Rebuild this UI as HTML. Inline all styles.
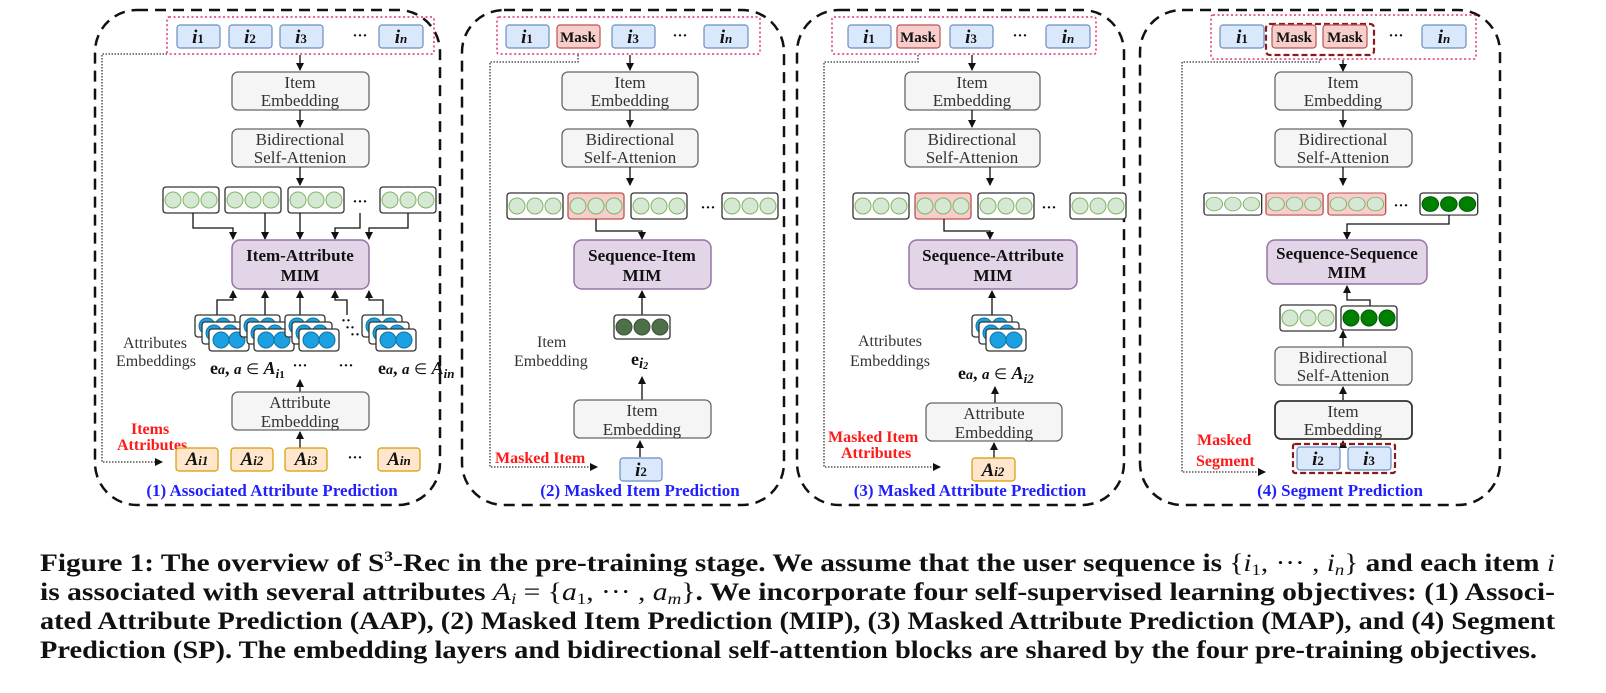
<!DOCTYPE html>
<html><head><meta charset="utf-8"><style>
html,body{margin:0;padding:0;background:#fff;}
svg{display:block;}
.bx{fill:#f5f5f5;stroke:#666;stroke-width:1.3;}
.bt{font-family:"Liberation Serif",serif;font-size:17px;fill:#333;text-anchor:middle;}
.mim{fill:#e1d5e7;stroke:#9673a6;stroke-width:1.5;}
.mt{font-family:"Liberation Serif",serif;font-size:17px;font-weight:bold;fill:#111;text-anchor:middle;}
.it{fill:#dae8fc;stroke:#6c8ebf;stroke-width:1.2;}
.il{font-family:"Liberation Serif",serif;font-size:19px;font-weight:bold;font-style:italic;fill:#111;text-anchor:middle;}
.sub{font-size:13px;font-style:normal;}
.mk{fill:#f8cecc;stroke:#b85450;stroke-width:1.2;}
.ml{font-family:"Liberation Serif",serif;font-size:15px;font-weight:bold;fill:#111;text-anchor:middle;}
.at{fill:#ffe6cc;stroke:#d79b00;stroke-width:1.2;}
.frame{fill:none;stroke:#111;stroke-width:2.5;stroke-dasharray:11 7;}
.pink{fill:none;stroke:#e0307a;stroke-width:1.5;stroke-dasharray:2 2.5;}
.dot{fill:none;stroke:#333;stroke-width:1.3;stroke-dasharray:1.5 1.5;}
.ln{fill:none;stroke:#111;stroke-width:1.3;}
.ttl{font-family:"Liberation Serif",serif;font-size:17px;font-weight:bold;fill:#1f1fff;text-anchor:middle;}
.red{font-family:"Liberation Serif",serif;font-size:16px;font-weight:bold;fill:#ff1a1a;}
.gt{font-family:"Liberation Serif",serif;font-size:16px;fill:#333;}
.math{font-family:"Liberation Serif",serif;font-size:18px;font-weight:bold;fill:#111;}
.cap{font-family:"Liberation Serif",serif;font-size:25px;font-weight:bold;fill:#111;}
</style></head><body>
<svg width="1606" height="693" viewBox="0 0 1606 693" xmlns="http://www.w3.org/2000/svg">
<defs>
<marker id="ar" markerWidth="8" markerHeight="8" refX="7" refY="4" orient="auto" markerUnits="userSpaceOnUse"><path d="M0,0 L8,4 L0,8 z" fill="#111"/></marker>
<g id="vec"><rect x="0" y="0" width="56" height="26" rx="3" fill="#fff" stroke="#333" stroke-width="1.3"/><circle cx="10" cy="13" r="8" fill="#d5e8d4" stroke="#82b366"/><circle cx="28" cy="13" r="8" fill="#d5e8d4" stroke="#82b366"/><circle cx="46" cy="13" r="8" fill="#d5e8d4" stroke="#82b366"/></g>
<g id="vecR"><rect x="0" y="0" width="56" height="26" rx="3" fill="#f8cecc" stroke="#b85450" stroke-width="1.3"/><circle cx="10" cy="13" r="8" fill="#d5e8d4" stroke="#82b366"/><circle cx="28" cy="13" r="8" fill="#d5e8d4" stroke="#82b366"/><circle cx="46" cy="13" r="8" fill="#d5e8d4" stroke="#82b366"/></g>
<g id="vecD"><rect x="0" y="0" width="56" height="24" rx="3" fill="#fff" stroke="#333" stroke-width="1.3"/><circle cx="10" cy="12" r="8" fill="#008000" stroke="#005700"/><circle cx="28" cy="12" r="8" fill="#008000" stroke="#005700"/><circle cx="46" cy="12" r="8" fill="#008000" stroke="#005700"/></g>
<g id="vecE"><rect x="0" y="0" width="56" height="24" rx="3" fill="#fff" stroke="#333" stroke-width="1.3"/><circle cx="10" cy="12" r="8" fill="#4f6e4a" stroke="#3a5336"/><circle cx="28" cy="12" r="8" fill="#4f6e4a" stroke="#3a5336"/><circle cx="46" cy="12" r="8" fill="#4f6e4a" stroke="#3a5336"/></g>
<g id="ab"><rect x="0" y="0" width="40" height="22" rx="3" fill="#fff" stroke="#333" stroke-width="1.3"/><circle cx="12" cy="11" r="8" fill="#1ba1e2" stroke="#10739e"/><circle cx="28" cy="11" r="8" fill="#1ba1e2" stroke="#10739e"/></g>
<g id="ast"><use href="#ab"/><use href="#ab" x="7" y="7"/><use href="#ab" x="14" y="14"/></g>
</defs>

<rect class="frame" x="95" y="10" width="345" height="495" rx="42"/>
<rect class="frame" x="462" y="10" width="322" height="495" rx="42"/>
<rect class="frame" x="797" y="10" width="327" height="495" rx="42"/>
<rect class="frame" x="1140" y="10" width="360" height="495" rx="42"/>

<!-- Panel 1 -->
<rect class="pink" x="167" y="17" width="267" height="37" rx="2"/>
<rect class="it" x="177" y="25" width="43" height="23" rx="3"/><text class="il" x="198" y="43">i<tspan class="sub">1</tspan></text>
<rect class="it" x="229" y="25" width="43" height="23" rx="3"/><text class="il" x="250" y="43">i<tspan class="sub">2</tspan></text>
<rect class="it" x="280" y="25" width="43" height="23" rx="3"/><text class="il" x="301" y="43">i<tspan class="sub">3</tspan></text>
<text class="ml" x="360" y="40">···</text>
<rect class="it" x="379" y="25" width="44" height="23" rx="3"/><text class="il" x="401" y="43">i<tspan class="sub" style="font-style:italic">n</tspan></text>
<path class="ln" d="M300,55 V70" marker-end="url(#ar)"/>
<rect class="bx" x="232" y="72" width="137" height="38" rx="6"/><text class="bt" x="300" y="88">Item</text><text class="bt" x="300" y="106">Embedding</text>
<path class="ln" d="M300,110 V127" marker-end="url(#ar)"/>
<rect class="bx" x="232" y="129" width="137" height="38" rx="6"/><text class="bt" x="300" y="145">Bidirectional</text><text class="bt" x="300" y="163">Self-Attenion</text>
<path class="ln" d="M300,167 V185" marker-end="url(#ar)"/>
<use href="#vec" x="163" y="187"/><use href="#vec" x="225" y="187"/><use href="#vec" x="288" y="187"/><text class="ml" x="360" y="206">···</text><use href="#vec" x="380" y="187"/>
<path class="ln" d="M193,213 V228 H233 V239" marker-end="url(#ar)"/>
<path class="ln" d="M265,213 V239" marker-end="url(#ar)"/>
<path class="ln" d="M300,213 V239" marker-end="url(#ar)"/>
<path class="ln" d="M360,213 V228 H335 V239" marker-end="url(#ar)"/>
<path class="ln" d="M408,213 V228 H369 V239" marker-end="url(#ar)"/>
<rect class="mim" x="232" y="240" width="137" height="49" rx="8"/><text class="mt" x="300" y="261">Item-Attribute</text><text class="mt" x="300" y="281">MIM</text>
<path class="ln" d="M217,315 V300 H233 V291" marker-end="url(#ar)"/>
<path class="ln" d="M265,315 V291" marker-end="url(#ar)"/>
<path class="ln" d="M300,315 V291" marker-end="url(#ar)"/>
<path class="ln" d="M347,315 V300 H335 V291" marker-end="url(#ar)"/>
<path class="ln" d="M383,315 V300 H369 V291" marker-end="url(#ar)"/>
<use href="#ast" x="195" y="315"/><use href="#ast" x="240" y="315"/><use href="#ast" x="285" y="315"/><use href="#ast" x="362" y="315"/>
<text class="ml" x="346" y="325">··</text><text class="ml" x="350" y="332">··</text><text class="ml" x="355" y="339">··</text>
<text class="gt" x="123" y="348">Attributes</text><text class="gt" x="116" y="366">Embeddings</text>
<text class="math" x="210" y="374">e<tspan font-style="italic" font-size="14">a</tspan>, <tspan font-style="italic" font-size="15">a</tspan> <tspan font-weight="normal" font-size="15">∈</tspan> <tspan font-style="italic">A</tspan><tspan font-style="italic" font-size="13" dy="4">i</tspan><tspan font-size="11">1</tspan></text>
<text class="ml" x="300" y="370">···</text><text class="ml" x="346" y="370">···</text>
<text class="math" x="378" y="374">e<tspan font-style="italic" font-size="14">a</tspan>, <tspan font-style="italic" font-size="15">a</tspan> <tspan font-weight="normal" font-size="15">∈</tspan> <tspan font-style="italic">A</tspan><tspan font-style="italic" font-size="13" dy="4">in</tspan></text>
<path class="ln" d="M300,392 V380" marker-end="url(#ar)"/>
<rect class="bx" x="232" y="392" width="137" height="38" rx="6"/><text class="bt" x="300" y="408">Attribute</text><text class="bt" x="300" y="427">Embedding</text>
<path class="ln" d="M300,448 V432" marker-end="url(#ar)"/>
<text class="red" x="131" y="434">Items</text><text class="red" x="117" y="450">Attributes</text>
<rect class="at" x="176" y="448" width="42" height="23" rx="3"/><text class="il" x="197" y="465">A<tspan class="sub" style="font-style:italic">i1</tspan></text>
<rect class="at" x="231" y="448" width="42" height="23" rx="3"/><text class="il" x="252" y="465">A<tspan class="sub" style="font-style:italic">i2</tspan></text>
<rect class="at" x="285" y="448" width="42" height="23" rx="3"/><text class="il" x="306" y="465">A<tspan class="sub" style="font-style:italic">i3</tspan></text>
<text class="ml" x="355" y="462">···</text>
<rect class="at" x="378" y="448" width="42" height="23" rx="3"/><text class="il" x="399" y="465">A<tspan class="sub" style="font-style:italic">in</tspan></text>
<path class="dot" d="M167,54 H102 V462 H162" marker-end="url(#ar)"/>
<text class="ttl" x="272" y="496">(1) Associated Attribute Prediction</text>

<!-- Panel 2 -->
<rect class="pink" x="497" y="17" width="263" height="37" rx="2"/>
<rect class="it" x="506" y="25" width="43" height="23" rx="3"/><text class="il" x="527" y="43">i<tspan class="sub">1</tspan></text>
<rect class="mk" x="557" y="25" width="43" height="23" rx="3"/><text class="ml" x="578" y="42">Mask</text>
<rect class="it" x="612" y="25" width="43" height="23" rx="3"/><text class="il" x="633" y="43">i<tspan class="sub">3</tspan></text>
<text class="ml" x="680" y="40">···</text>
<rect class="it" x="704" y="25" width="44" height="23" rx="3"/><text class="il" x="726" y="43">i<tspan class="sub" style="font-style:italic">n</tspan></text>
<path class="ln" d="M630,55 V70" marker-end="url(#ar)"/>
<rect class="bx" x="562" y="72" width="136" height="38" rx="6"/><text class="bt" x="630" y="88">Item</text><text class="bt" x="630" y="106">Embedding</text>
<path class="ln" d="M630,110 V127" marker-end="url(#ar)"/>
<rect class="bx" x="562" y="129" width="136" height="38" rx="6"/><text class="bt" x="630" y="145">Bidirectional</text><text class="bt" x="630" y="163">Self-Attenion</text>
<path class="ln" d="M630,167 V185" marker-end="url(#ar)"/>
<use href="#vec" x="507" y="193"/><use href="#vecR" x="568" y="193"/><use href="#vec" x="631" y="193"/><text class="ml" x="708" y="212">···</text><use href="#vec" x="722" y="193"/>
<path class="ln" d="M596,219 V231 H642 V239" marker-end="url(#ar)"/>
<rect class="mim" x="574" y="240" width="137" height="49" rx="8"/><text class="mt" x="642" y="261">Sequence-Item</text><text class="mt" x="642" y="281">MIM</text>
<path class="ln" d="M642,315 V291" marker-end="url(#ar)"/>
<use href="#vecE" x="614" y="315"/>
<text class="gt" x="537" y="347">Item</text><text class="gt" x="514" y="366">Embedding</text>
<text class="math" x="631" y="365">e<tspan font-style="italic" font-size="15" dy="3">i</tspan><tspan font-style="italic" font-size="10" dy="1">2</tspan></text>
<path class="ln" d="M642,400 V377" marker-end="url(#ar)"/>
<rect class="bx" x="574" y="400" width="137" height="38" rx="6"/><text class="bt" x="642" y="416">Item</text><text class="bt" x="642" y="435">Embedding</text>
<path class="ln" d="M640,457 V441" marker-end="url(#ar)"/>
<rect class="it" x="620" y="458" width="42" height="23" rx="3"/><text class="il" x="641" y="476">i<tspan class="sub">2</tspan></text>
<text class="red" x="495" y="463">Masked Item</text>
<path class="dot" d="M578,55 V62 H490 V467 H597" marker-end="url(#ar)"/>
<text class="ttl" x="640" y="496">(2) Masked Item Prediction</text>

<!-- Panel 3 -->
<rect class="pink" x="832" y="17" width="264" height="37" rx="2"/>
<rect class="it" x="848" y="25" width="43" height="23" rx="3"/><text class="il" x="869" y="43">i<tspan class="sub">1</tspan></text>
<rect class="mk" x="897" y="25" width="43" height="23" rx="3"/><text class="ml" x="918" y="42">Mask</text>
<rect class="it" x="950" y="25" width="43" height="23" rx="3"/><text class="il" x="971" y="43">i<tspan class="sub">3</tspan></text>
<text class="ml" x="1020" y="40">···</text>
<rect class="it" x="1046" y="25" width="44" height="23" rx="3"/><text class="il" x="1068" y="43">i<tspan class="sub" style="font-style:italic">n</tspan></text>
<path class="ln" d="M972,55 V70" marker-end="url(#ar)"/>
<rect class="bx" x="905" y="72" width="135" height="38" rx="6"/><text class="bt" x="972" y="88">Item</text><text class="bt" x="972" y="106">Embedding</text>
<path class="ln" d="M972,110 V127" marker-end="url(#ar)"/>
<rect class="bx" x="905" y="129" width="135" height="38" rx="6"/><text class="bt" x="972" y="145">Bidirectional</text><text class="bt" x="972" y="163">Self-Attenion</text>
<path class="ln" d="M990,167 V185" marker-end="url(#ar)"/>
<use href="#vec" x="853" y="193"/><use href="#vecR" x="915" y="193"/><use href="#vec" x="978" y="193"/><text class="ml" x="1049" y="212">···</text><use href="#vec" x="1070" y="193"/>
<path class="ln" d="M944,219 V231 H990 V239" marker-end="url(#ar)"/>
<rect class="mim" x="909" y="240" width="168" height="49" rx="8"/><text class="mt" x="993" y="261">Sequence-Attribute</text><text class="mt" x="993" y="281">MIM</text>
<path class="ln" d="M992,315 V291" marker-end="url(#ar)"/>
<use href="#ast" x="972" y="315"/>
<text class="gt" x="858" y="346">Attributes</text><text class="gt" x="850" y="366">Embeddings</text>
<text class="math" x="958" y="379">e<tspan font-style="italic" font-size="14">a</tspan>, <tspan font-style="italic" font-size="15">a</tspan> <tspan font-weight="normal" font-size="15">∈</tspan> <tspan font-style="italic">A</tspan><tspan font-style="italic" font-size="13" dy="4">i2</tspan></text>
<path class="ln" d="M995,403 V387" marker-end="url(#ar)"/>
<rect class="bx" x="926" y="403" width="136" height="38" rx="6"/><text class="bt" x="994" y="419">Attribute</text><text class="bt" x="994" y="438">Embedding</text>
<path class="ln" d="M994,458 V443" marker-end="url(#ar)"/>
<rect class="at" x="972" y="458" width="43" height="23" rx="3"/><text class="il" x="993" y="476">A<tspan class="sub" style="font-style:italic">i2</tspan></text>
<text class="red" x="828" y="442">Masked Item</text><text class="red" x="841" y="458">Attributes</text>
<path class="dot" d="M918,55 V62 H824 V467 H940" marker-end="url(#ar)"/>
<text class="ttl" x="970" y="496">(3) Masked Attribute Prediction</text>

<!-- Panel 4 -->
<rect class="pink" x="1211" y="15" width="265" height="44" rx="2"/>
<rect class="it" x="1220" y="25" width="44" height="23" rx="3"/><text class="il" x="1242" y="43">i<tspan class="sub">1</tspan></text>
<rect x="1266" y="24" width="108" height="31" rx="4" fill="none" stroke="#8b1a1a" stroke-width="2.2" stroke-dasharray="6 3"/>
<rect class="mk" x="1272" y="25" width="44" height="23" rx="3"/><text class="ml" x="1294" y="42">Mask</text>
<rect class="mk" x="1323" y="25" width="44" height="23" rx="3"/><text class="ml" x="1345" y="42">Mask</text>
<text class="ml" x="1396" y="40">···</text>
<rect class="it" x="1422" y="25" width="44" height="23" rx="3"/><text class="il" x="1444" y="43">i<tspan class="sub" style="font-style:italic">n</tspan></text>
<path class="ln" d="M1343,60 V71" marker-end="url(#ar)"/>
<rect class="bx" x="1275" y="72" width="137" height="38" rx="6"/><text class="bt" x="1343" y="88">Item</text><text class="bt" x="1343" y="106">Embedding</text>
<path class="ln" d="M1343,110 V127" marker-end="url(#ar)"/>
<rect class="bx" x="1275" y="129" width="137" height="38" rx="6"/><text class="bt" x="1343" y="145">Bidirectional</text><text class="bt" x="1343" y="163">Self-Attenion</text>
<path class="ln" d="M1343,167 V185" marker-end="url(#ar)"/>
<g transform="translate(1204,193) scale(1.03,0.85)"><use href="#vec"/></g>
<g transform="translate(1266,193) scale(1.02,0.85)"><use href="#vecR"/></g>
<g transform="translate(1328,193) scale(1.03,0.85)"><use href="#vecR"/></g>
<text class="ml" x="1401" y="210">···</text>
<g transform="translate(1420,193) scale(1.03,0.92)"><use href="#vecD"/></g>
<path class="ln" d="M1449,215 V224 H1347 V239" marker-end="url(#ar)"/>
<rect class="mim" x="1267" y="240" width="160" height="44" rx="8"/><text class="mt" x="1347" y="259">Sequence-Sequence</text><text class="mt" x="1347" y="278">MIM</text>
<path class="ln" d="M1370,306 V300 H1347 V286" marker-end="url(#ar)"/>
<use href="#vec" x="1280" y="305"/><use href="#vecD" x="1341" y="306"/>
<path class="ln" d="M1343,347 V331" marker-end="url(#ar)"/>
<rect class="bx" x="1275" y="347" width="137" height="38" rx="6"/><text class="bt" x="1343" y="363">Bidirectional</text><text class="bt" x="1343" y="381">Self-Attenion</text>
<path class="ln" d="M1343,400 V387" marker-end="url(#ar)"/>
<rect class="bx" x="1275" y="401" width="137" height="38" rx="6" style="stroke:#333;stroke-width:1.8"/><text class="bt" x="1343" y="417">Item</text><text class="bt" x="1343" y="435">Embedding</text>
<path class="ln" d="M1343,446 V441" marker-end="url(#ar)"/>
<rect x="1293" y="444" width="102" height="29" rx="2" fill="none" stroke="#8b1a1a" stroke-width="2.2" stroke-dasharray="6 3"/>
<rect class="it" x="1297" y="447" width="43" height="23" rx="3"/><text class="il" x="1318" y="465">i<tspan class="sub">2</tspan></text>
<rect class="it" x="1348" y="447" width="43" height="23" rx="3"/><text class="il" x="1369" y="465">i<tspan class="sub">3</tspan></text>
<text class="red" x="1197" y="445">Masked</text><text class="red" x="1196" y="466">Segment</text>
<path class="dot" d="M1320,59 V62 H1182 V472 H1265" marker-end="url(#ar)"/>
<text class="ttl" x="1340" y="496">(4) Segment Prediction</text>

<!-- caption -->
<text class="cap" x="40" y="571" textLength="1515" lengthAdjust="spacingAndGlyphs">Figure 1: The overview of S<tspan font-size="15" dy="-10">3</tspan><tspan dy="10">-Rec in the pre-training stage. We assume that the user sequence is </tspan><tspan font-weight="normal">{<tspan font-style="italic">i</tspan><tspan font-size="16" dy="4">1</tspan><tspan dy="-4">, ··· , </tspan><tspan font-style="italic">i</tspan><tspan font-size="16" font-style="italic" dy="4">n</tspan><tspan dy="-4">}</tspan></tspan> and each item <tspan font-weight="normal" font-style="italic">i</tspan></text>
<text class="cap" x="40" y="600" textLength="1515" lengthAdjust="spacingAndGlyphs">is associated with several attributes <tspan font-weight="normal" font-style="italic">A</tspan><tspan font-weight="normal" font-style="italic" font-size="16" dy="4">i</tspan><tspan font-weight="normal" dy="-4"> = {<tspan font-style="italic">a</tspan><tspan font-size="16" dy="4">1</tspan><tspan dy="-4">, ··· , </tspan><tspan font-style="italic">a</tspan><tspan font-size="16" font-style="italic" dy="4">m</tspan><tspan dy="-4">}</tspan></tspan>. We incorporate four self-supervised learning objectives: (1) Associ-</text>
<text class="cap" x="40" y="629" textLength="1515" lengthAdjust="spacingAndGlyphs">ated Attribute Prediction (AAP), (2) Masked Item Prediction (MIP), (3) Masked Attribute Prediction (MAP), and (4) Segment</text>
<text class="cap" x="40" y="658" textLength="1497" lengthAdjust="spacingAndGlyphs">Prediction (SP). The embedding layers and bidirectional self-attention blocks are shared by the four pre-training objectives.</text>
</svg>
</body></html>
